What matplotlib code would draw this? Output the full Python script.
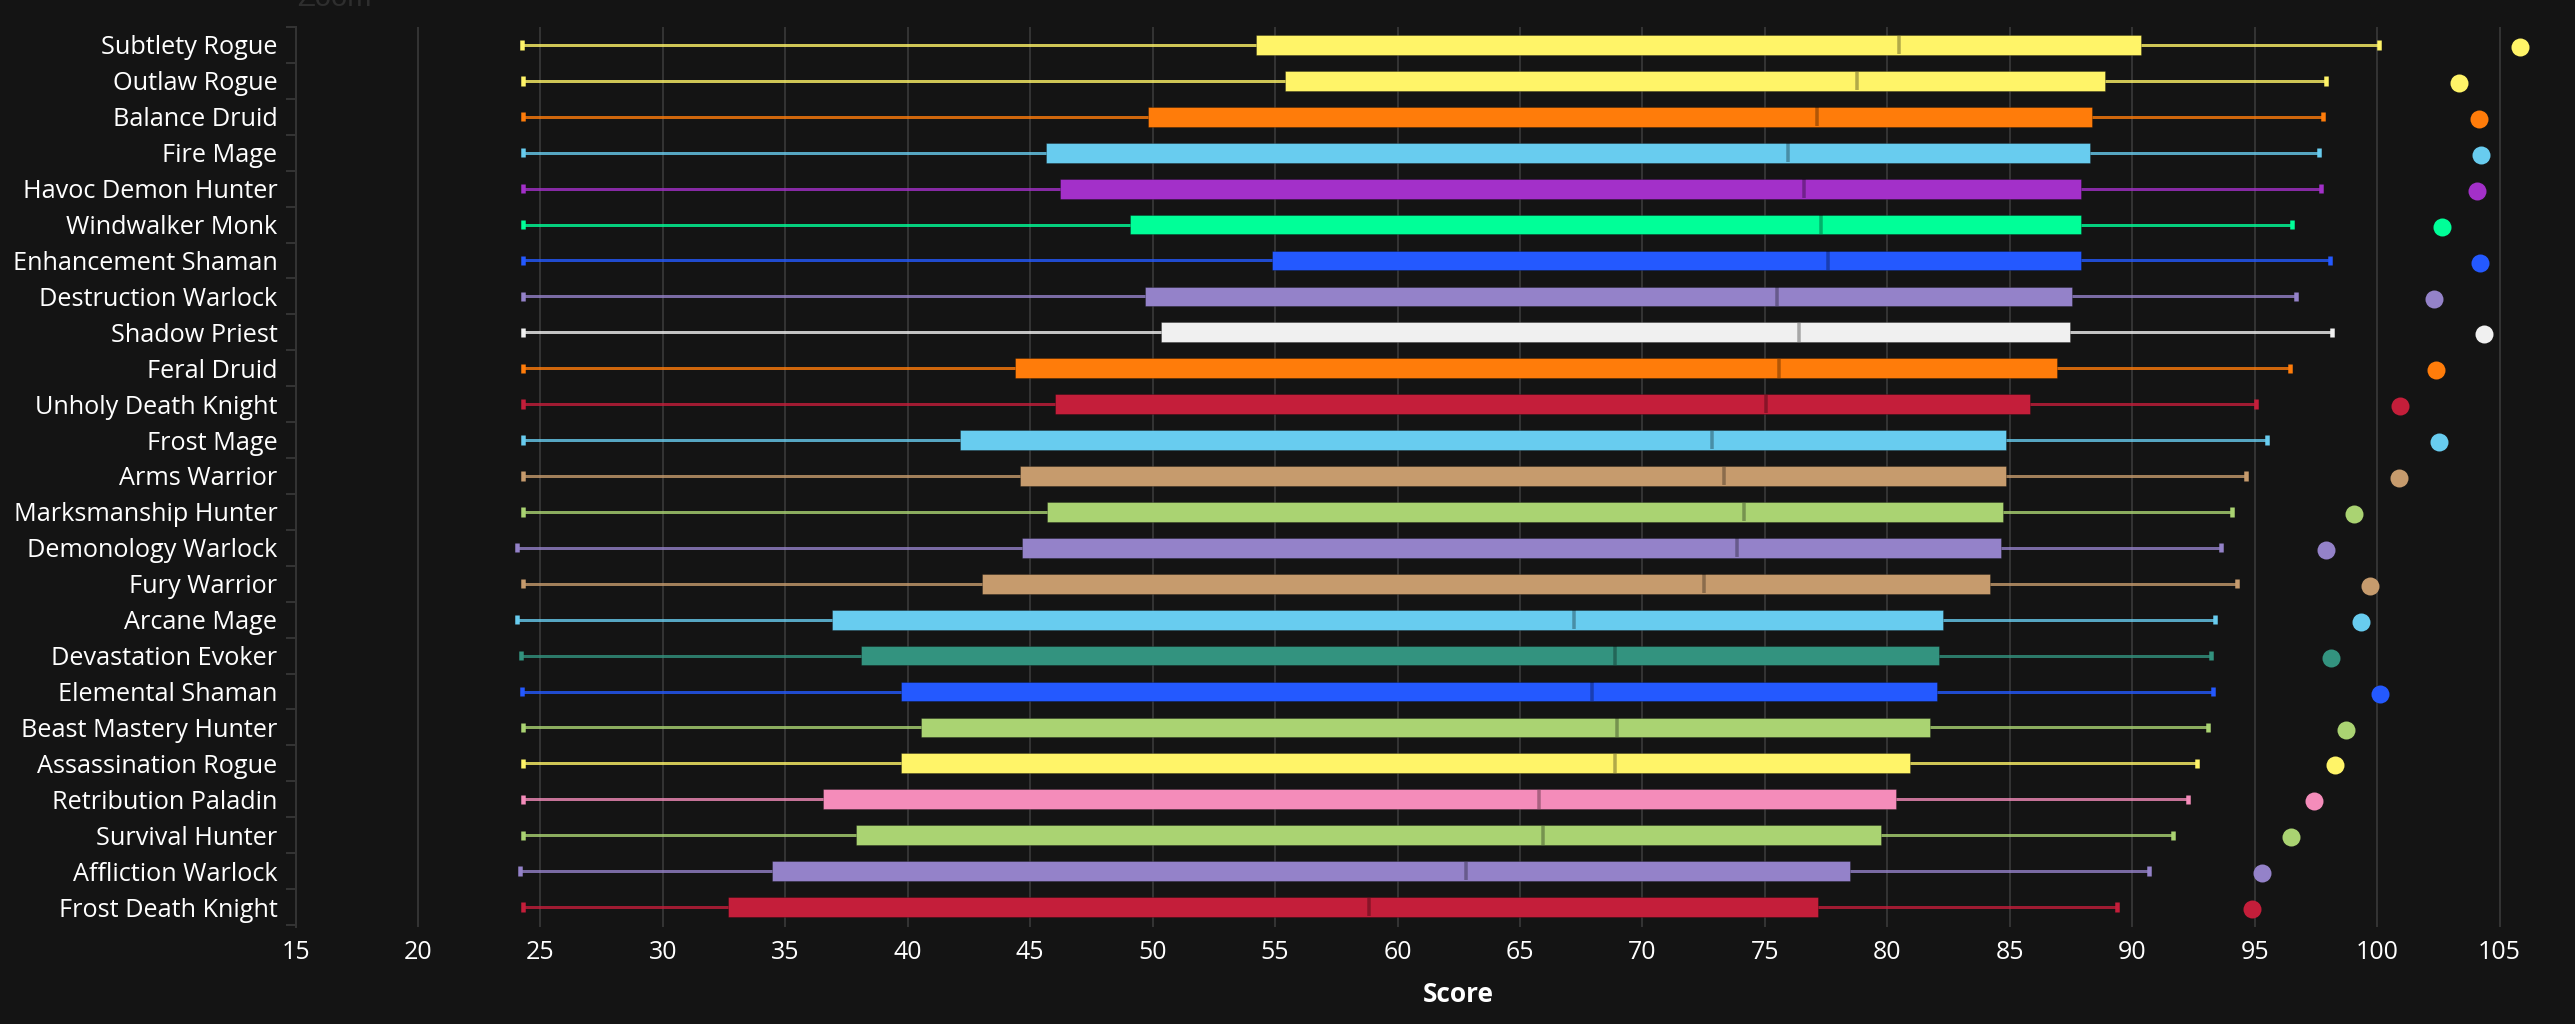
import matplotlib
matplotlib.use('Agg')
import matplotlib.pyplot as plt

specs = ['Subtlety Rogue', 'Outlaw Rogue', 'Balance Druid', 'Fire Mage', 'Havoc Demon Hunter',
         'Windwalker Monk', 'Enhancement Shaman', 'Destruction Warlock', 'Shadow Priest', 'Feral Druid',
         'Unholy Death Knight', 'Frost Mage', 'Arms Warrior', 'Marksmanship Hunter', 'Demonology Warlock',
         'Fury Warrior', 'Arcane Mage', 'Devastation Evoker', 'Elemental Shaman', 'Beast Mastery Hunter',
         'Assassination Rogue', 'Retribution Paladin', 'Survival Hunter', 'Affliction Warlock', 'Frost Death Knight']

low = [24.25, 24.3, 24.3, 24.3, 24.3, 24.3, 24.3, 24.3, 24.3, 24.3, 24.3, 24.3, 24.3,
       24.3, 24.05, 24.3, 24.05, 24.2, 24.25, 24.3, 24.3, 24.3, 24.3, 24.15, 24.3]
q1 = [54.23, 55.41, 49.8, 45.66, 46.22, 49.06, 54.86, 49.7, 50.34, 44.4, 46.03, 42.15, 44.59,
      45.68, 44.67, 43.05, 36.91, 38.08, 39.72, 40.53, 39.72, 36.54, 37.9, 34.47, 32.67]
median = [80.48, 78.76, 77.13, 75.94, 76.59, 77.31, 77.59, 75.49, 76.4, 75.58, 75.04, 72.86, 73.33,
          74.14, 73.86, 72.51, 67.21, 68.86, 67.96, 68.95, 68.86, 65.77, 65.95, 62.78, 58.85]
q3 = [90.35, 88.9, 88.35, 88.27, 87.9, 87.9, 87.9, 87.54, 87.45, 86.91, 85.82, 84.84, 84.84,
      84.74, 84.65, 84.2, 82.28, 82.1, 82.01, 81.73, 80.91, 80.36, 79.74, 78.46, 77.18]
high = [100.06, 97.9, 97.8, 97.63, 97.7, 96.54, 98.07, 96.7, 98.15, 96.44, 95.07, 95.52, 94.63,
        94.09, 93.62, 94.26, 93.39, 93.2, 93.28, 93.1, 92.65, 92.28, 91.65, 90.67, 89.39]
top_score = [105.85, 103.33, 104.16, 104.24, 104.06, 102.66, 104.22, 102.34, 104.38, 102.4, 100.94, 102.54, 100.88,
             99.04, 97.9, 99.7, 99.33, 98.13, 100.1, 98.73, 98.3, 97.42, 96.48, 95.3, 94.9]

rogue = '#FFF468'
druid = '#FF7C0A'
mage = '#68CCEF'
dh = '#A330C9'
monk = '#00FF98'
shaman = '#2459FF'
warlock = '#9482C9'
priest = '#F0F0F0'
dk = '#C41E3A'
warrior = '#C69B6D'
hunter = '#AAD372'
evoker = '#33937F'
paladin = '#F48CBA'
colors = [rogue, rogue, druid, mage, dh, monk, shaman, warlock, priest, druid, dk, mage, warrior,
          hunter, warlock, warrior, mage, evoker, shaman, hunter, rogue, paladin, hunter, warlock, dk]

bg = '#141414'
line = '#333333'
px = 0.72  # 1 pixel in points at dpi 100

plt.rcParams['font.family'] = ['Open Sans', 'DejaVu Sans']

fig = plt.figure(figsize=(25.75, 10.24), dpi=100, facecolor=bg)
# right edge of the plot area runs past the picture, like the original crop
ax = fig.add_axes([295.5 / 2575, 1 - 927.3 / 1024, (2622 - 295.5) / 2575, 900.6 / 1024], facecolor=bg)

for i, spec in enumerate(specs):
    c = colors[i]
    ax.hlines(i, low[i], high[i], color=c, lw=3 * px, alpha=0.8, zorder=2)
    ax.vlines([low[i], high[i]], i - 0.13, i + 0.13, color=c, lw=4.5 * px, zorder=2)
    ax.barh(i, q3[i] - q1[i], left=q1[i], height=0.55, color=c, edgecolor=(0, 0, 0, 0.25), linewidth=1 * px, zorder=3)
    ax.vlines(median[i], i - 0.26, i + 0.26, color='black', alpha=0.3, lw=3.5 * px, zorder=4)
    ax.scatter(top_score[i], i + 0.06, s=(18 * px) ** 2, color=c, linewidths=0, zorder=5, clip_on=False)

ax.set_xlim(15, 110)
ax.set_ylim(24.565, -0.509)
ax.set_xticks(range(15, 110, 5))
ax.set_yticks(range(len(specs)))
ax.set_yticklabels(specs)
ax.set_yticks([i - 0.5 for i in range(len(specs) + 1)], minor=True)
ax.grid(axis='x', color=line, lw=2 * px, zorder=1)
ax.set_axisbelow(True)

ax.tick_params(axis='x', length=0, labelsize=18, labelcolor='white', pad=9)
ax.tick_params(axis='y', which='major', length=0, labelsize=18.2, labelcolor='white', pad=13)
ax.tick_params(axis='y', which='minor', length=7, width=2 * px, color=line)

for side in ['top', 'right', 'bottom']:
    ax.spines[side].set_visible(False)
ax.spines['left'].set_color(line)
ax.spines['left'].set_linewidth(2 * px)

ax.set_xlabel('Score', color='white', fontsize=19, fontweight='bold', labelpad=12)

# title of the chart's zoom button, cut off by the top edge in the original
fig.text(297 / 2575, 1 - 6 / 1024, 'Zoom', color='#2e2e2e', fontsize=21, family='Liberation Sans')

fig.savefig('out.png', dpi=100, facecolor=bg)
